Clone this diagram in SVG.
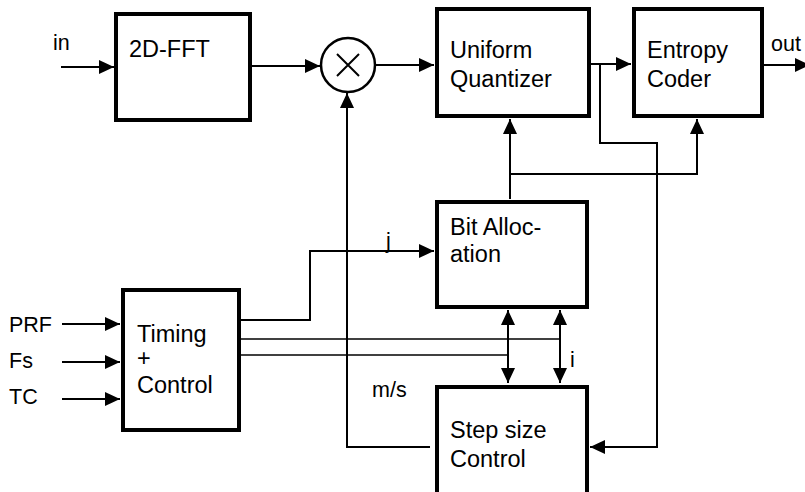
<svg xmlns="http://www.w3.org/2000/svg" width="805" height="492" viewBox="0 0 805 492">
<style>
.box{fill:#fff;stroke:#000;stroke-width:4}
.ln{fill:none;stroke:#000;stroke-width:2}
.thin{fill:none;stroke:#000;stroke-width:1.6}
text{font-family:"Liberation Sans",Arial,sans-serif;font-size:21.5px;fill:#000}
.bt{font-size:23.5px}
</style>
<defs>
<marker id="ah" viewBox="0 0 15 14" refX="15" refY="7" markerWidth="15" markerHeight="14" markerUnits="userSpaceOnUse" orient="auto-start-reverse">
<path d="M0,0 L15,7 L0,14 Z" fill="#000"/>
</marker>
</defs>
<g id="connectors">
<line class="ln" x1="61" y1="67" x2="114" y2="67" marker-end="url(#ah)"/>
<line class="ln" x1="252" y1="66" x2="320" y2="66" marker-end="url(#ah)"/>
<line class="ln" x1="375" y1="65" x2="434" y2="65" marker-end="url(#ah)"/>
<line class="ln" x1="591" y1="64" x2="631" y2="64" marker-end="url(#ah)"/>
<line class="ln" x1="764" y1="65" x2="810" y2="65" marker-end="url(#ah)"/>
<polyline class="ln" points="600,64 600,143 657,143 657,447 590,447" marker-end="url(#ah)"/>
<line class="ln" x1="510" y1="199" x2="510" y2="119" marker-end="url(#ah)"/>
<polyline class="ln" points="510,174 697,174 697,119" marker-end="url(#ah)"/>
<polyline class="ln" points="430,447 347,447 347,93" marker-end="url(#ah)"/>
<polyline class="ln" points="241,320 310,320 310,251 434,251" marker-end="url(#ah)"/>
<line class="thin" x1="241" y1="339" x2="560" y2="339"/>
<line class="thin" x1="241" y1="355" x2="508" y2="355"/>
<line class="ln" x1="508" y1="310" x2="508" y2="383" marker-start="url(#ah)" marker-end="url(#ah)"/>
<line class="ln" x1="560" y1="310" x2="560" y2="383" marker-start="url(#ah)" marker-end="url(#ah)"/>
<line class="ln" x1="62" y1="324" x2="120" y2="324" marker-end="url(#ah)"/>
<line class="ln" x1="62" y1="362" x2="120" y2="362" marker-end="url(#ah)"/>
<line class="ln" x1="62" y1="399" x2="120" y2="399" marker-end="url(#ah)"/>
<text x="53" y="50">in</text>
<text x="771" y="51">out</text>
<text x="386" y="248">j</text>
<text x="570" y="367">i</text>
<text x="372" y="397">m/s</text>
<text x="9" y="332">PRF</text>
<text x="9" y="368">Fs</text>
<text x="9" y="404">TC</text>
</g>
<g id="fft">
<rect class="box" x="116" y="14" width="134" height="106"/>
<text class="bt" x="129" y="57">2D-FFT</text>
</g>
<g id="mult">
<circle cx="348" cy="65" r="27" fill="#fff" stroke="#000" stroke-width="2.5"/>
<path d="M337,54 L359,76 M359,54 L337,76" stroke="#000" stroke-width="2" fill="none"/>
</g>
<g id="quantizer">
<rect class="box" x="437" y="9" width="152" height="107"/>
<text class="bt" x="450" y="58">Uniform</text>
<text class="bt" x="450" y="87">Quantizer</text>
</g>
<g id="entropy">
<rect class="box" x="634" y="9" width="128" height="107"/>
<text class="bt" x="647" y="58">Entropy</text>
<text class="bt" x="647" y="87">Coder</text>
</g>
<g id="bitalloc">
<rect class="box" x="437" y="202" width="150" height="105"/>
<text class="bt" x="450" y="235">Bit Alloc-</text>
<text class="bt" x="450" y="262">ation</text>
</g>
<g id="timing">
<rect class="box" x="123" y="290" width="116" height="140"/>
<text class="bt" x="137" y="342">Timing</text>
<text class="bt" x="137" y="366">+</text>
<text class="bt" x="137" y="393">Control</text>
</g>
<g id="stepsize">
<rect class="box" x="437" y="387" width="150" height="120"/>
<text class="bt" x="450" y="438">Step size</text>
<text class="bt" x="450" y="467">Control</text>
</g>
</svg>
